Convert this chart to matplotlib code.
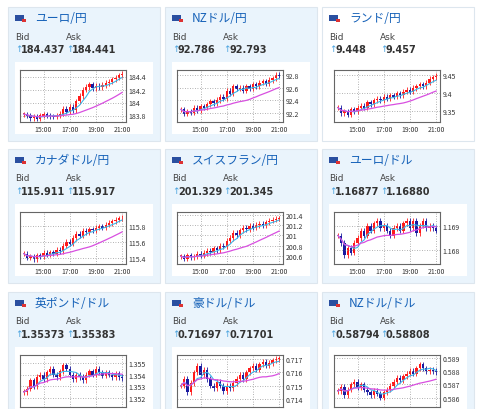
import numpy as np
import matplotlib
matplotlib.use("Agg")
import matplotlib.pyplot as plt
from matplotlib.patches import Rectangle

plt.rcParams['font.family'] = ['Noto Sans CJK JP', 'DejaVu Sans']

names = ["ユーロ/円", "NZドル/円", "ランド/円", "カナダドル/円", "スイスフラン/円", "ユーロ/ドル",
         "英ポンド/ドル", "豪ドル/ドル", "NZドル/ドル"]
bids = ["184.437", "92.786", "9.448", "115.911", "201.329", "1.16877", "1.35373", "0.71697", "0.58794"]
asks = ["184.441", "92.793", "9.457", "115.917", "201.345", "1.16880", "1.35383", "0.71701", "0.58808"]
yticks = [[183.8, 184, 184.2, 184.4], [92.2, 92.4, 92.6, 92.8], [9.35, 9.4, 9.45],
          [115.4, 115.6, 115.8], [200.6, 200.8, 201, 201.2, 201.4], [1.168, 1.169],
          [1.352, 1.353, 1.354, 1.355], [0.714, 0.715, 0.716, 0.717], [0.586, 0.587, 0.588, 0.589]]
ylims = [(183.7, 184.5), (92.05, 92.88), (9.32, 9.465), (115.32, 115.98), (200.45, 201.45),
         (1.16745, 1.16955), (1.3512, 1.3557), (0.7134, 0.7173), (0.5853, 0.5892)]
closes = [
    [183.82, 183.80, 183.76, 183.78, 183.75, 183.80, 183.82, 183.80, 183.79, 183.78, 183.80, 183.83,
     183.90, 183.86, 183.93, 183.88, 184.02, 184.10, 184.20, 184.24, 184.28, 184.22, 184.26, 184.24,
     184.27, 184.30, 184.32, 184.36, 184.38, 184.42, 184.44],
    [92.25, 92.18, 92.22, 92.20, 92.28, 92.24, 92.30, 92.28, 92.33, 92.38, 92.35, 92.40, 92.45, 92.42,
     92.55, 92.50, 92.62, 92.58, 92.60, 92.55, 92.62, 92.58, 92.65, 92.62, 92.68, 92.70, 92.66, 92.72,
     92.75, 92.80, 92.79],
    [9.36, 9.345, 9.35, 9.34, 9.355, 9.35, 9.36, 9.365, 9.36, 9.375, 9.37, 9.38, 9.385, 9.38, 9.39,
     9.385, 9.395, 9.39, 9.40, 9.395, 9.405, 9.41, 9.405, 9.415, 9.42, 9.425, 9.42, 9.43, 9.44, 9.445, 9.448],
    [115.45, 115.40, 115.42, 115.38, 115.43, 115.42, 115.46, 115.44, 115.47, 115.45, 115.50, 115.48,
     115.55, 115.60, 115.58, 115.65, 115.70, 115.68, 115.74, 115.72, 115.76, 115.75, 115.78, 115.80,
     115.78, 115.82, 115.84, 115.86, 115.88, 115.90, 115.91],
    [200.60, 200.55, 200.62, 200.58, 200.60, 200.65, 200.62, 200.66, 200.70, 200.68, 200.75, 200.72,
     200.80, 200.78, 200.90, 200.95, 201.05, 201.00, 201.10, 201.15, 201.12, 201.18, 201.15, 201.20,
     201.22, 201.20, 201.25, 201.28, 201.30, 201.32, 201.33],
    [1.1686, 1.1683, 1.1678, 1.1681, 1.1679, 1.1683, 1.1685, 1.1688, 1.1686, 1.1690, 1.1688, 1.1691,
     1.1692, 1.1689, 1.1690, 1.1688, 1.1686, 1.1689, 1.1690, 1.1688, 1.1691, 1.1692, 1.1689, 1.1692,
     1.1687, 1.1690, 1.1692, 1.1689, 1.1690, 1.1689, 1.1688],
    [1.3525, 1.3528, 1.3535, 1.3530, 1.3538, 1.3540, 1.3536, 1.3542, 1.3545, 1.3540, 1.3538, 1.3543,
     1.3548, 1.3545, 1.3540, 1.3536, 1.3540, 1.3538, 1.3535, 1.3540, 1.3543, 1.3540, 1.3545, 1.3542,
     1.3539, 1.3542, 1.3540, 1.3538, 1.3541, 1.3538, 1.3537],
    [0.7150, 0.7155, 0.7145, 0.7152, 0.7160, 0.7165, 0.7158, 0.7162, 0.7155, 0.7150, 0.7148, 0.7153,
     0.7150, 0.7146, 0.7150, 0.7148, 0.7152, 0.7155, 0.7158, 0.7155, 0.7160, 0.7163, 0.7165, 0.7162,
     0.7166, 0.7168, 0.7165, 0.7167, 0.7169, 0.7170, 0.7170],
    [0.5865, 0.5868, 0.5862, 0.5866, 0.5870, 0.5872, 0.5868, 0.5870, 0.5866, 0.5864, 0.5862, 0.5865,
     0.5863, 0.5860, 0.5864, 0.5866, 0.5869, 0.5872, 0.5875, 0.5873, 0.5876, 0.5878, 0.5880, 0.5878,
     0.5882, 0.5885, 0.5882, 0.5880, 0.5881, 0.5880, 0.5879],
]
xtick_labels = ["15:00", "17:00", "19:00", "21:00"]
xtick_pos = [15, 17, 19, 21]
white_panels = [2]

W, H = 480, 410
fig = plt.figure(figsize=(W / 100, H / 100), dpi=100)
fig.patch.set_facecolor("white")

def px_axes(x, y, w, h, **kw):
    return fig.add_axes([x / W, 1 - (y + h) / H, w / W, h / H], **kw)

bg = fig.add_axes([0, 0, 1, 1])
bg.set_xlim(0, W); bg.set_ylim(H, 0); bg.axis("off")

col_x = [8, 165, 322]
row_y = [8, 150, 293]
pw, ph = 152, 134
for i in range(9):
    r, c = divmod(i, 3)
    x0, y0 = col_x[c], row_y[r]
    face = "white" if i in white_panels else "#eaf4fc"
    bg.add_patch(Rectangle((x0, y0), pw, ph, facecolor=face, edgecolor="#dde6ee", lw=0.8))
    bg.add_patch(Rectangle((x0 + 7, y0 + 8), 9, 6, facecolor="#2a4fa0", edgecolor="none"))
    bg.add_patch(Rectangle((x0 + 14, y0 + 12), 4, 3, facecolor="#d33", edgecolor="none"))
    bg.text(x0 + 27, y0 + 11, names[i], color="#1561b8", fontsize=8.5, va="center", ha="left")
    bg.text(x0 + 7, y0 + 29, "Bid", color="#444", fontsize=6.5, va="center", family="DejaVu Sans")
    bg.text(x0 + 58, y0 + 29, "Ask", color="#444", fontsize=6.5, va="center", family="DejaVu Sans")
    for xo, val in ((7, bids[i]), (58, asks[i])):
        bg.text(x0 + xo, y0 + 42, "↑", color="#4aa3df", fontsize=6.5, va="center",
                family="DejaVu Sans")
        bg.text(x0 + xo + 6, y0 + 42, val, color="#333", fontsize=7.0, va="center",
                family="DejaVu Sans", fontweight="bold")
    bg.add_patch(Rectangle((x0 + 7, y0 + 55), 138, 72, facecolor="white", edgecolor="none"))

    ax = px_axes(x0 + 12, y0 + 63, 106, 52)
    cl = np.array(closes[i])
    n = len(cl)
    t = 13.5 + 0.25 * np.arange(n)
    op = np.concatenate([[cl[0]], cl[:-1]])
    span = ylims[i][1] - ylims[i][0]
    for k in range(n):
        up = cl[k] >= op[k]
        col = "#ff1a1a" if up else "#1a1aa0"
        lo, hi = min(op[k], cl[k]), max(op[k], cl[k])
        ax.vlines(t[k], lo - 0.05 * span, hi + 0.05 * span, color=col, lw=0.6)
        ax.add_patch(Rectangle((t[k] - 0.09, lo), 0.18, max(hi - lo, span * 0.015),
                               facecolor=col, edgecolor="none"))
    ma_s = np.array([cl[max(0, k - 4):k + 1].mean() for k in range(n)])
    ma_l = np.array([cl[max(0, k - 20):k + 1].mean() for k in range(n)])
    ax.plot(t, ma_s, color="#3cb6e8", lw=0.8)
    ax.plot(t, ma_l, color="#d84fe0", lw=0.9)
    ax.set_xlim(13.2, 21.3)
    ax.set_ylim(*ylims[i])
    ax.set_xticks(xtick_pos)
    ax.set_xticklabels(xtick_labels if r < 2 else [])
    ax.set_yticks(yticks[i])
    ax.set_yticklabels([f"{v:g}" for v in yticks[i]])
    ax.yaxis.tick_right()
    ax.tick_params(labelsize=5, length=0, pad=2, colors="#333")
    ax.grid(True, ls=(0, (1, 2)), color="#999", lw=0.6)
    for s in ax.spines.values():
        s.set_color("#666"); s.set_linewidth(0.8)

fig.savefig("out.png", dpi=100)
